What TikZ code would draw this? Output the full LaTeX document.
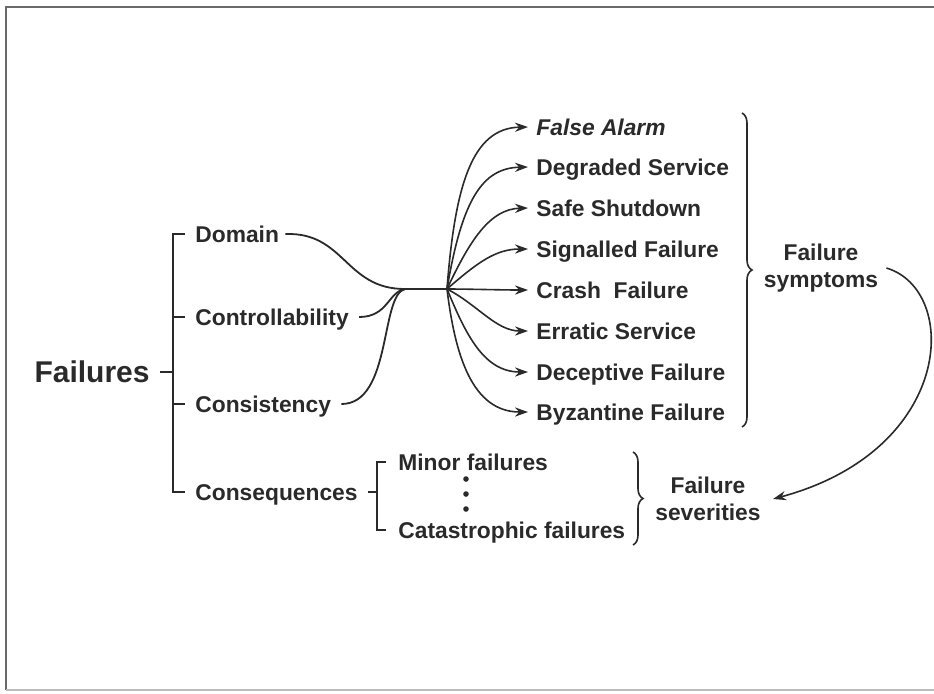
\documentclass[tikz,border=0pt]{standalone}
\usepackage{fontspec}
\setmainfont{Liberation Sans}
\usepackage{xcolor}
\definecolor{inkDark}{HTML}{2A2A2A}
\definecolor{frameGray}{HTML}{6A6A6A}
\usetikzlibrary{positioning,calc,arrows.meta,decorations.pathreplacing}
\tikzset{%
  itemText/.style={%
    font=\fontsize{11.4}{13.5}\selectfont\bfseries,
    text=inkDark,
    inner sep=2pt,
    text height=8pt,
    text depth=0pt,
    anchor=west
  },
  groupText/.style={%
    font=\fontsize{11.4}{13.5}\selectfont\bfseries,
    text=inkDark,
    align=center,
    inner sep=2pt
  },
  treeLine/.style={%
    line width=0.9pt,
    color=inkDark
  },
  fanArrow/.style={%
    -{Stealth[length=6.5pt,width=4.6pt]},
    line width=0.8pt,
    color=inkDark
  },
  braceLine/.style={%
    decorate,
    decoration={brace,amplitude=5pt},
    line width=0.8pt,
    color=inkDark
  }
}

\begin{document}
\begin{tikzpicture}[x=0.5pt,y=-0.5pt]
  \useasboundingbox (0,0) rectangle (934,693);
  % frame
  \draw[frameGray, line width=1pt] (934,7) -- (6,7) -- (6,690);
  \draw[frameGray!45, line width=0.8pt] (6,690) -- (934,690);

  % left tree
  \node[itemText, anchor=east, font=\fontsize{15}{18}\selectfont\bfseries, text height=10.7pt] (failures) at (154,372) {Failures};
  \node[itemText] (domain) at (191,234) {Domain};
  \node[itemText] (ctrl) at (191,317) {Controllability};
  \node[itemText] (consis) at (191,404) {Consistency};
  \node[itemText] (conseq) at (191,492) {Consequences};

  \coordinate (lbr) at (173,0);
  \draw[treeLine] ([xshift=-3pt]domain.west) -- (lbr |- domain.west) -- (lbr |- conseq.west) -- ([xshift=-3pt]conseq.west);
  \draw[treeLine] (lbr |- ctrl.west) -- ([xshift=-3pt]ctrl.west);
  \draw[treeLine] (lbr |- consis.west) -- ([xshift=-3pt]consis.west);
  \draw[treeLine] ([xshift=3pt]failures.east) -- (lbr |- failures.east);

  % consequences
  \node[itemText] (minor) at (394,462) {Minor failures};
  \node[itemText] (cata) at (394,530) {Catastrophic failures};
  \coordinate (cbr) at (377,0);
  \draw[treeLine] ([xshift=3pt]conseq.east) -- (cbr |- conseq.east);
  \draw[treeLine] ([xshift=-4pt]minor.west) -- (cbr |- minor.west) -- (cbr |- cata.west) -- ([xshift=-4pt]cata.west);
  \foreach \dy in {479,494,509}
    \fill[inkDark] (466,\dy) circle (1.4pt);
  \draw[braceLine] (633,452) -- (633,545);
  \node[groupText] (sev) at (708,499) {Failure\\severities};

  % hub
  \coordinate (hubL) at (405,289);
  \coordinate (hubR) at (447,289);
  \draw[treeLine] (hubL) -- (hubR);
  \draw[treeLine] ([xshift=1pt]domain.east) .. controls (345,232) and (345,289) .. (hubL);
  \draw[treeLine] ([xshift=3pt]ctrl.east) .. controls (388,317) and (388,292) .. (hubL);
  \draw[treeLine] ([xshift=3pt]consis.east) .. controls (392,404) and (380,295) .. (hubL);

  % symptoms
  \foreach \nm/\yy/\txt in {alarm/127/{\itshape False Alarm}, degraded/167/Degraded Service,
      safe/208/Safe Shutdown, signalled/249/Signalled Failure, crash/290/Crash~~Failure,
      erratic/331/Erratic Service, deceptive/372/Deceptive Failure, byzantine/412/Byzantine Failure}
    \node[itemText] (\nm) at (532,\yy) {\txt};

  \foreach \nm/\ax/\ay/\bx/\by in {alarm/455/185/472/128, degraded/462/200/482/168,
      safe/470/240/490/209, signalled/478/262/496/249, crash/470/289/500/290,
      erratic/478/305/496/331, deceptive/466/335/484/372, byzantine/455/355/472/412}
    \draw[fanArrow] (hubR) .. controls (\ax,\ay) and (\bx,\by) .. ([xshift=-2pt]\nm.west);

  \draw[braceLine] (742,113) -- (742,427);
  \node[groupText] (symp) at (821,268) {Failure\\symptoms};

  \draw[fanArrow] ([xshift=2pt]symp.east) .. controls (960,290) and (955,450) .. ([xshift=4pt]sev.east);
\end{tikzpicture}
\end{document}
